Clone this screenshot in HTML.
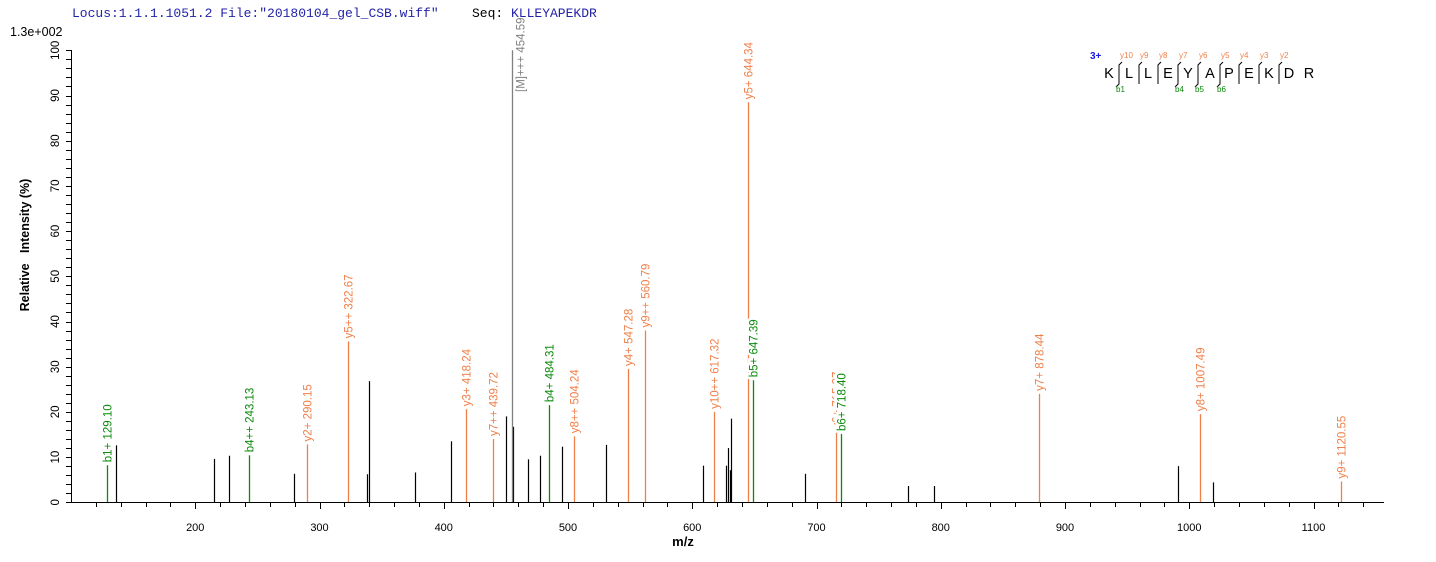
<!DOCTYPE html>
<html><head><meta charset="utf-8"><style>
html,body{margin:0;padding:0;background:#fff;}
svg{display:block;}
text{font-family:"Liberation Sans",sans-serif;}
.pl{font-size:11.5px;}
</style></head><body>
<svg width="1436" height="562" xmlns="http://www.w3.org/2000/svg">
<text x="72" y="17" style="font-family:'Liberation Mono',monospace;font-size:13px" fill="#2323a8">Locus:1.1.1.1051.2 File:"20180104_gel_CSB.wiff"</text>
<text x="472" y="17" style="font-family:'Liberation Mono',monospace;font-size:13px" fill="#000">Seq:</text>
<text x="511" y="17" style="font-family:'Liberation Mono',monospace;font-size:13px" fill="#2323a8">KLLEYAPEKDR</text>
<text x="10" y="36" font-size="12.5">1.3e+002</text>
<g id="axes" stroke="#000" stroke-width="1"></g>
<g id="peaks"></g>
<g id="labels"></g>
<text x="683" y="546" font-size="13" font-weight="bold" text-anchor="middle">m/z</text>
<text transform="translate(29,245) rotate(-90)" font-size="12.5" font-weight="bold" text-anchor="middle">Relative &#160; Intensity (%)</text>
<g id="legend" font-size="14"></g>
<script>
var NS="http://www.w3.org/2000/svg";
function el(p,t,a,txt){var e=document.createElementNS(NS,t);for(var k in a)e.setAttribute(k,a[k]);if(txt!=null)e.textContent=txt;document.getElementById(p).appendChild(e);return e;}
function X(m){return 71+(m-100)*1.2425;}
function Y(v){return 502.3-4.52*v;}
el('axes','line',{x1:71,y1:502.5,x2:1384,y2:502.5});
el('axes','line',{x1:71.5,y1:50,x2:71.5,y2:503});
for(var m=120;m<=1150;m+=20){var x=Math.round(X(m))+0.5;el('axes','line',{x1:x,y1:503,x2:x,y2:(m%100==0?509:507)});
 if(m%100==0)el('labels','text',{x:X(m),y:531,'font-size':11,'text-anchor':'middle'},m);}
for(var v=0;v<=100;v+=2){var y=Math.round(Y(v))+0.5;el('axes','line',{x1:66,y1:y,x2:71,y2:y});
 if(v%10==0)el('labels','text',{transform:'translate('+59+','+Y(v)+') rotate(-90)','font-size':11.5,'text-anchor':'middle'},v);}
var O="#f0804a",G="#0a8a0a",K="#000";
var P=[[107,8.2,G,"b1+ 129.10"],[115.5,12.6,K],[214,9.6,K],[229,10.3,K],[249,10.4,G,"b4++ 243.13"],[293.6,6.3,K],[307,12.8,O,"y2+ 290.15"],
[348,35.6,O,"y5++ 322.67"],[366.8,6.2,K],[368.5,26.8,K],[415,6.6,K],[451,13.5,K],[466,20.6,O,"y3+ 418.24"],[493,14,O,"y7++ 439.72"],
[505.5,19,K],[512.5,16.7,K],[527.5,9.5,K],[540,10.3,K],[548.5,21.5,G,"b4+ 484.31"],[562,12.3,K],[573.5,14.6,O,"y8++ 504.24"],[605.5,12.7,K],
[627.5,29.5,O,"y4+ 547.28"],[644.5,38,O,"y9++ 560.79"],[703,8.1,K],[714,20,O,"y10++ 617.32"],[725.5,8.1,K],[728,12,K],[729.7,7.1,K],[730.8,18.5,K],
[748,88.5,O,"y5+ 644.34"],[752.5,27,G,"b5+ 647.39"],[805,6.3,K],[836,15.6,O,"y6+ 715.37"],[840.5,15.1,G,"b6+ 718.40"],[908,3.6,K],[934,3.6,K],
[1039,24,O,"y7+ 878.44"],[1178,8,K],[1200,19.5,O,"y8+ 1007.49"],[1212.5,4.4,K],[1340.5,4.6,O,"y9+ 1120.55"]];
P.push([511.6,100,"#808080","[M]+++ 454.59",92,12]);
P.forEach(function(p){var x=Math.round(p[0])+0.5,t=Y(p[1]);
 el('peaks','line',{x1:x,y1:502,x2:x,y2:t,stroke:p[2],'stroke-width':(p[2]==K?1.2:1.3)});
 if(p[3]){var ty=p[4]?p[4]:t-3;var dx=p[5]?p[5]:4;var a={transform:'translate('+(x+dx)+','+ty+') rotate(-90)',fill:p[2],'class':'pl'};
  if(p[2]==G){a.stroke='#fff';a['stroke-width']=5;a['paint-order']='stroke';}
  el('labels','text',a,p[3]);}});
el('legend','text',{x:1090,y:59,fill:'#1a1ae0','font-size':10,'font-weight':'bold'},'3+');
var L="KLLEYAPEKDR".split(""),LX=[1109,1129,1148,1168,1188,1210,1229,1249,1269,1289,1309];
L.forEach(function(c,i){el('legend','text',{x:LX[i],y:78,'text-anchor':'middle','font-size':14.5},c);});
var yl=["y10","y9","y8","y7","y6","y5","y4","y3","y2"];
for(var i=0;i<10;i++){var sx=LX[i]+10;
 if(i<9){el('legend','path',{d:'M'+(sx+3)+' 62 L'+sx+' 65 L'+sx+' 84',stroke:'#000',fill:'none'});
  el('legend','text',{x:sx+1,y:58,fill:O,'font-size':8},yl[i]);}}
[[0,"b1"],[3,"b4"],[4,"b5"],[5,"b6"]].forEach(function(b){var sx=LX[b[0]]+10;
 el('legend','path',{d:'M'+sx+' 65 L'+sx+' 84 L'+(sx-3)+' 87',stroke:'#000',fill:'none'});
 el('legend','text',{x:sx-3,y:92,fill:G,'font-size':8},b[1]);});
</script>
</svg>
</body></html>
